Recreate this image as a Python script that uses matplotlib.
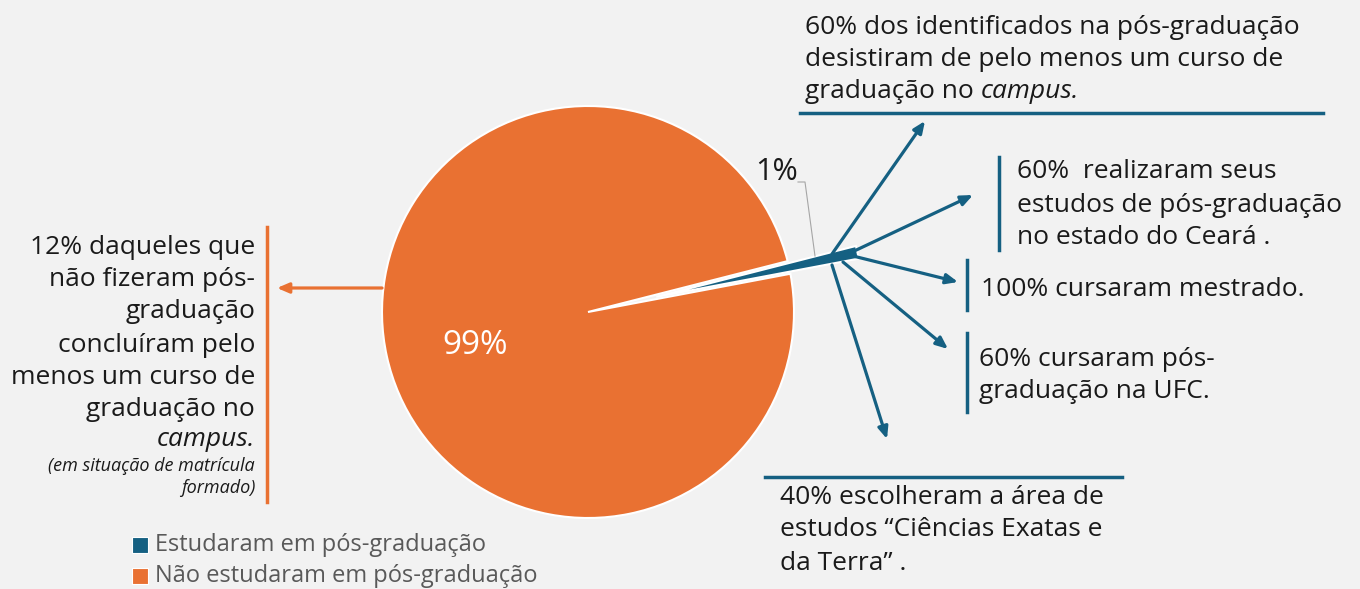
import matplotlib
matplotlib.use("Agg")
import matplotlib.pyplot as plt

# ---- data -------------------------------------------------------------
labels = ["Estudaram em pós-graduação", "Não estudaram em pós-graduação"]
shares = [1, 99]
pct_text = ["1%", "99%"]

BLUE = "#156082"
ORANGE = "#E97132"
BG = "#F2F2F2"
INK = "#1A1A1A"
GREY = "#595959"
FONT = "Open Sans"

plt.rcParams["font.family"] = [FONT, "DejaVu Sans"]

W, H = 1360, 589
fig = plt.figure(figsize=(W / 100, H / 100), dpi=100, facecolor=BG)
ax = fig.add_axes([0, 0, 1, 1])
ax.set_facecolor(BG)


def Y(y):
    # pixel rows from the top -> data y
    return H - y


wedges, _ = ax.pie(
    shares, colors=[BLUE, ORANGE], startangle=10.7, explode=[70, 0],
    radius=206, center=(588, Y(312)), frame=True,
    wedgeprops=dict(edgecolor="white", linewidth=1.5),
)
ax.set_xlim(0, W)
ax.set_ylim(0, H)
ax.set_aspect("equal")
ax.axis("off")

ax.text(475, Y(345), pct_text[1], color="white", fontsize=24, ha="center", va="center")
ax.text(777, Y(172), pct_text[0], color=INK, fontsize=22, ha="center", va="center")
ax.plot([798, 805, 815], [Y(182), Y(182), Y(256)], color="#A6A6A6", lw=0.8)

# ---- arrows out of the small slice -----------------------------------
arrows = [((832, 254), (925, 121)), ((850, 253), (973, 195)),
          ((853, 256), (958, 282)), ((843, 262), (948, 349)),
          ((832, 265), (887, 439))]
for (x0, y0), (x1, y1) in arrows:
    ax.annotate("", xy=(x1, Y(y1)), xytext=(x0, Y(y0)),
                arrowprops=dict(arrowstyle="-|>,head_length=0.7,head_width=0.3",
                                color=BLUE, lw=2.3, shrinkA=0, shrinkB=0))
ax.annotate("", xy=(277, Y(288)), xytext=(382, Y(288)),
            arrowprops=dict(arrowstyle="-|>,head_length=0.7,head_width=0.3",
                            color=ORANGE, lw=2.3, shrinkA=0, shrinkB=0))

# ---- rule lines ------------------------------------------------------
ax.plot([800, 1323], [Y(113), Y(113)], color=BLUE, lw=2.5)
ax.plot([999, 999], [Y(157), Y(250)], color=BLUE, lw=2.5)
ax.plot([967, 967], [Y(260), Y(310)], color=BLUE, lw=2.5)
ax.plot([967, 967], [Y(333), Y(412)], color=BLUE, lw=2.5)
ax.plot([765, 1122], [Y(477), Y(477)], color=BLUE, lw=2.5)
ax.plot([267, 267], [Y(227), Y(502)], color=ORANGE, lw=2.5)

FS = 19


def line(x, y, s, ha="left", size=FS, style="normal", color=INK):
    return ax.text(x, Y(y), s, ha=ha, va="center", fontsize=size,
                   fontstyle=style, color=color)


def mixed(x, y, plain, ital):
    t = line(x, y, plain)
    fig.canvas.draw()
    bb = t.get_window_extent()
    x2 = ax.transData.inverted().transform((bb.x1, bb.y0))[0]
    line(x2, y, ital, style="italic")


# top note
line(805, 27, "60% dos identificados na pós-graduação")
line(805, 59, "desistiram de pelo menos um curso de")
mixed(805, 91, "graduação no ", "campus.")

# right notes
for y, s in [(172, "60%  realizaram seus"), (205, "estudos de pós-graduação"),
             (238, "no estado do Ceará .")]:
    line(1017, y, s)
line(981, 290, "100% cursaram mestrado.")
line(979, 360, "60% cursaram pós-")
line(979, 392, "graduação na UFC.")
for y, s in [(497, "40% escolheram a área de"),
             (530, "estudos \u201cCiências Exatas e"),
             (563, "da Terra\u201d .")]:
    line(780, y, s)

# left note
for y, s in [(247, "12% daqueles que"), (280, "não fizeram pós-"),
             (312, "graduação"), (345, "concluíram pelo"),
             (377, "menos um curso de"), (409, "graduação no")]:
    line(255, y, s, ha="right")
line(255, 440, "campus.", ha="right", style="italic")
line(255, 466, "(em situação de matrícula", ha="right", size=13, style="italic")
line(255, 488, "formado)", ha="right", size=13, style="italic")

# legend
for (y, c, s) in [(545, BLUE, labels[0]), (576, ORANGE, labels[1])]:
    ax.scatter([140], [Y(y)], marker="s", s=120, color=c, edgecolors="white", linewidths=0.8)
    line(155, y, s, size=17, color=GREY)

fig.savefig("out.png", dpi=100, facecolor=BG)
